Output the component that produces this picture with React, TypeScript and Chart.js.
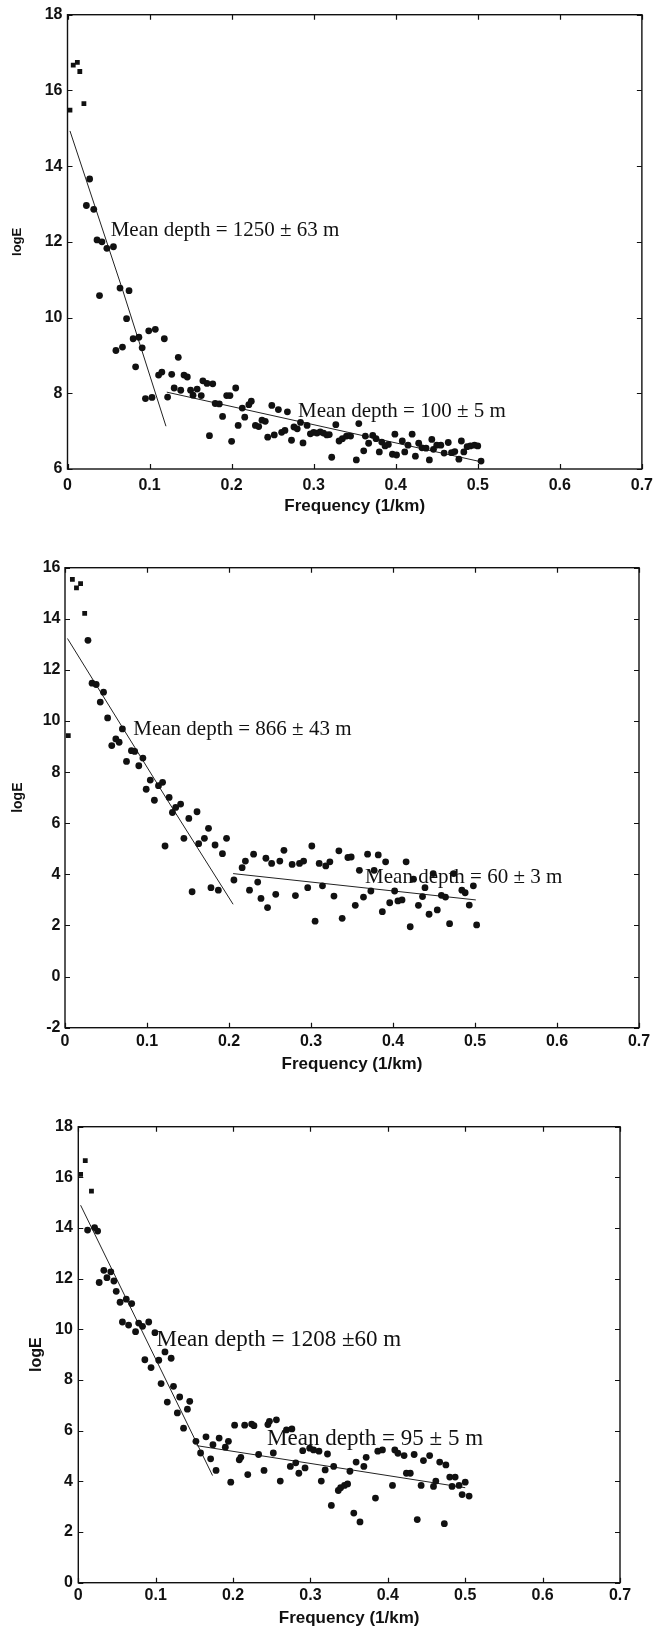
import React, { useEffect, useRef } from "react";
import { Chart, registerables } from "chart.js";

Chart.register(...registerables);

// ---------- shared axis values ----------
const freqTicks = [0, 0.1, 0.2, 0.3, 0.4, 0.5, 0.6, 0.7];
const xTitle = "Frequency (1/km)";
const yTitle = "logE";

// ---------- Panel 1 ----------
const p1Freq = [0.003, 0.007, 0.012, 0.015, 0.020, 0.023, 0.027, 0.032, 0.036, 0.042, 0.048, 0.056, 0.039, 0.064, 0.075,
  0.072, 0.059, 0.067, 0.080, 0.087, 0.091, 0.083, 0.095, 0.103, 0.099, 0.107, 0.118, 0.111, 0.115, 0.122, 0.127, 0.130,
  0.135, 0.138, 0.142, 0.146, 0.150, 0.153, 0.158, 0.163, 0.165, 0.170, 0.177, 0.173, 0.180, 0.185, 0.189, 0.194, 0.198,
  0.205, 0.200, 0.208, 0.213, 0.216, 0.221, 0.224, 0.229, 0.233, 0.237, 0.241, 0.244, 0.249, 0.252, 0.257, 0.261, 0.265,
  0.268, 0.273, 0.276, 0.280, 0.284, 0.287, 0.292, 0.296, 0.300, 0.304, 0.308, 0.312, 0.316, 0.319, 0.322, 0.327,
  0.331, 0.335, 0.340, 0.345, 0.352, 0.355, 0.361, 0.363, 0.367, 0.372, 0.376, 0.380, 0.383, 0.387, 0.391, 0.396, 0.399,
  0.401, 0.408, 0.411, 0.415, 0.420, 0.424, 0.428, 0.432, 0.437, 0.441, 0.444, 0.446, 0.450, 0.455, 0.459, 0.464, 0.468,
  0.472, 0.477, 0.480, 0.483, 0.487, 0.491, 0.496, 0.500, 0.504];
const p1LogE = [15.48, 16.67, 16.74, 16.5, 15.65, 12.96, 13.66, 12.86, 12.05, 12.0, 11.83, 11.87, 10.58, 10.78, 10.71,
  9.97, 9.13, 9.22, 9.44, 9.48, 9.2, 8.70, 7.86, 7.89, 9.65, 9.69, 9.44, 8.48, 8.56, 7.90, 8.50, 8.14,
  8.95, 8.08, 8.48, 8.43, 8.08, 7.95, 8.11, 7.94, 8.33, 8.26, 8.25, 6.88, 7.73, 7.72, 7.39, 7.94, 7.94,
  8.14, 6.73, 7.15, 7.61, 7.37, 7.70, 7.79, 7.15, 7.12, 7.29, 7.26, 6.84, 7.68, 6.90, 7.57, 6.97, 7.02,
  7.51, 6.76, 7.11, 7.06, 7.23, 6.69, 7.15, 6.93, 6.97, 6.95, 6.98, 6.95, 6.90, 6.91, 6.31, 7.17,
  6.74, 6.80, 6.87, 6.87, 6.24, 7.20, 6.48, 6.87, 6.68, 6.89, 6.80, 6.45, 6.71, 6.61, 6.65, 6.39, 6.92,
  6.37, 6.74, 6.45, 6.63, 6.92, 6.34, 6.68, 6.56, 6.55, 6.24, 6.78, 6.52, 6.63, 6.63, 6.42, 6.70, 6.43,
  6.46, 6.26, 6.74, 6.45, 6.59, 6.61, 6.63, 6.61, 6.21];
const p1DeepFreq = [0.003, 0.067, 0.120];
const p1DeepLogE = [14.93, 10.74, 7.13];
const p1ShallowFreq = [0.121, 0.502];
const p1ShallowLogE = [8.03, 6.20];
const p1Labels = ["Mean depth = 1250 ± 63 m", "Mean depth = 100 ± 5 m"];
const p1LabelFreq = [0.0526, 0.281];
const p1LabelLogE = [12.31, 7.51];

// ---------- Panel 2 ----------
const p2Freq = [0.004, 0.009, 0.014, 0.019, 0.024, 0.028, 0.033, 0.038, 0.043, 0.047, 0.052, 0.057, 0.062, 0.066, 0.070,
  0.075, 0.081, 0.085, 0.090, 0.095, 0.099, 0.104, 0.109, 0.114, 0.119, 0.122, 0.127, 0.131, 0.135, 0.141, 0.145, 0.151,
  0.155, 0.161, 0.163, 0.170, 0.175, 0.178, 0.183, 0.187, 0.192, 0.197, 0.206, 0.216, 0.220, 0.225, 0.230, 0.235, 0.239,
  0.245, 0.247, 0.252, 0.257, 0.262, 0.267, 0.277, 0.281, 0.286, 0.291, 0.296, 0.301, 0.305, 0.310, 0.314, 0.318, 0.323,
  0.328, 0.334, 0.338, 0.345, 0.349, 0.354, 0.359, 0.364, 0.369, 0.373, 0.377, 0.382, 0.387, 0.391, 0.396, 0.402, 0.406,
  0.411, 0.416, 0.421, 0.425, 0.431, 0.436, 0.439, 0.444, 0.449, 0.454, 0.459, 0.464, 0.469, 0.474, 0.484, 0.488, 0.493,
  0.498, 0.502];
const p2LogE = [9.43, 15.54, 15.21, 15.38, 14.21, 13.16, 11.48, 11.43, 10.74, 11.13, 10.12, 9.04, 9.30, 9.17, 9.69,
  8.42, 8.84, 8.81, 8.25, 8.55, 7.33, 7.69, 6.90, 7.47, 7.60, 5.11, 7.01, 6.42, 6.62, 6.75, 5.41, 6.19,
  3.32, 6.45, 5.20, 5.41, 5.80, 3.48, 5.15, 3.38, 4.81, 5.41, 3.78, 4.26, 4.52, 3.38, 4.79, 3.70, 3.06,
  4.63, 2.70, 4.43, 3.22, 4.52, 4.94, 4.39, 3.17, 4.43, 4.52, 3.48, 5.11, 2.17, 4.43, 3.55, 4.33, 4.49,
  3.15, 4.92, 2.28, 4.66, 4.68, 2.79, 4.16, 3.11, 4.79, 3.35, 4.16, 4.76, 2.54, 4.49, 2.89, 3.35, 2.96,
  3.00, 4.49, 1.95, 3.81, 2.79, 3.13, 3.48, 2.44, 4.03, 2.61, 3.18, 3.11, 2.07, 4.03, 3.38, 3.28, 2.80,
  3.55, 2.02];
const p2DeepFreq = [0.003, 0.125, 0.205];
const p2DeepLogE = [13.23, 6.90, 2.83];
const p2ShallowFreq = [0.205, 0.501];
const p2ShallowLogE = [4.03, 3.00];
const p2Labels = ["Mean depth = 866 ± 43 m", "Mean depth = 60 ± 3 m"];
const p2LabelFreq = [0.0833, 0.366];
const p2LabelLogE = [9.68, 3.87];

// ---------- Panel 3 ----------
const p3Freq = [0.003, 0.009, 0.017, 0.012, 0.021, 0.025, 0.027, 0.033, 0.037, 0.042, 0.046, 0.049, 0.054, 0.062, 0.069,
  0.057, 0.065, 0.074, 0.078, 0.083, 0.091, 0.099, 0.086, 0.094, 0.104, 0.112, 0.120, 0.107, 0.123, 0.115, 0.131, 0.128,
  0.141, 0.144, 0.136, 0.152, 0.158, 0.165, 0.171, 0.174, 0.178, 0.182, 0.190, 0.194, 0.197, 0.202, 0.208, 0.210, 0.215,
  0.219, 0.224, 0.227, 0.233, 0.240, 0.245, 0.247, 0.252, 0.256, 0.261, 0.269, 0.274, 0.276, 0.281, 0.285, 0.290, 0.293,
  0.299, 0.304, 0.311, 0.314, 0.319, 0.322, 0.327, 0.330, 0.336, 0.339, 0.344, 0.348, 0.351, 0.356, 0.359, 0.364, 0.369,
  0.372, 0.384, 0.387, 0.393, 0.406, 0.409, 0.413, 0.421, 0.424, 0.429, 0.434, 0.438, 0.443, 0.446, 0.454, 0.459, 0.462,
  0.467, 0.473, 0.475, 0.480, 0.483, 0.487, 0.492, 0.496, 0.500, 0.505];
const p3LogE = [16.12, 16.66, 15.46, 13.92, 14.02, 13.88, 11.85, 12.33, 12.04, 12.27, 11.91, 11.50, 11.07, 11.19, 11.02,
  10.29, 10.17, 9.91, 10.25, 10.12, 10.29, 9.87, 8.80, 8.49, 8.78, 9.11, 8.86, 7.86, 7.75, 7.13, 7.33, 6.70,
  6.85, 7.16, 6.10, 5.58, 5.12, 5.76, 4.89, 5.45, 4.43, 5.71, 5.35, 5.58, 3.97, 6.22, 4.85, 4.95, 6.22,
  4.27, 6.26, 6.20, 5.06, 4.43, 6.24, 6.37, 5.12, 6.43, 4.01, 6.03, 4.59, 6.07, 4.73, 4.32, 5.21, 4.53,
  5.31, 5.24, 5.19, 4.01, 4.45, 5.08, 3.05, 4.59, 3.64, 3.75, 3.84, 3.90, 4.40, 2.75, 4.76, 2.40, 4.59,
  4.95, 3.34, 5.19, 5.24, 3.84, 5.24, 5.11, 5.02, 4.32, 4.32, 5.06, 2.49, 3.84, 4.82, 5.02, 3.80, 4.01,
  4.76, 2.33, 4.65, 4.17, 3.80, 4.17, 3.84, 3.48, 3.97, 3.42];
const p3DeepFreq = [0.003, 0.1735];
const p3DeepLogE = [14.90, 4.23];
const p3ShallowFreq = [0.153, 0.500];
const p3ShallowLogE = [5.41, 3.75];
const p3Labels = ["Mean depth = 1208 ±60 m", "Mean depth = 95 ± 5 m"];
const p3LabelFreq = [0.101, 0.244];
const p3LabelLogE = [9.58, 5.67];

// ---------- layout / style per panel ----------
type PanelCfg = {
  freq: number[]; logE: number[];
  deepF: number[]; deepE: number[]; shallowF: number[]; shallowE: number[];
  labels: string[]; labelF: number[]; labelE: number[];
  yMin: number; yMax: number;
  squares: number;
  top: number; h: number; aLeft: number; aRight: number; aTop: number; aBottom: number;
  xPad: number; yPad: number; xTitlePad: number; yTitlePad: number; yTitleSize: number;
  annSize: number;
};

const panels: PanelCfg[] = [
  {
    freq: p1Freq, logE: p1LogE, deepF: p1DeepFreq, deepE: p1DeepLogE, shallowF: p1ShallowFreq, shallowE: p1ShallowLogE,
    labels: p1Labels, labelF: p1LabelFreq, labelE: p1LabelLogE, yMin: 6, yMax: 18, squares: 5,
    top: 0, h: 530, aLeft: 67.5, aRight: 646.5, aTop: 14.7, aBottom: 469,
    xPad: 7, yPad: 5, xTitlePad: 13, yTitlePad: 10, yTitleSize: 13, annSize: 21,
  },
  {
    freq: p2Freq, logE: p2LogE, deepF: p2DeepFreq, deepE: p2DeepLogE, shallowF: p2ShallowFreq, shallowE: p2ShallowLogE,
    labels: p2Labels, labelF: p2LabelFreq, labelE: p2LabelLogE, yMin: -2, yMax: 16, squares: 5,
    top: 530, h: 555, aLeft: 65, aRight: 639, aTop: 37.7, aBottom: 497.7,
    xPad: 4, yPad: 4.5, xTitlePad: 10, yTitlePad: 10, yTitleSize: 14, annSize: 21,
  },
  {
    freq: p3Freq, logE: p3LogE, deepF: p3DeepFreq, deepE: p3DeepLogE, shallowF: p3ShallowFreq, shallowE: p3ShallowLogE,
    labels: p3Labels, labelF: p3LabelFreq, labelE: p3LabelLogE, yMin: 0, yMax: 18, squares: 3,
    top: 1085, h: 550, aLeft: 78.3, aRight: 620, aTop: 41.7, aBottom: 497.7,
    xPad: 3.5, yPad: 5.5, xTitlePad: 6, yTitlePad: 27, yTitleSize: 16, annSize: 23,
  },
];

const tickFont = { family: "'Liberation Sans', Arial, sans-serif", size: 16, weight: "bold" as const };

function framePlugin() {
  return {
    id: "frame",
    afterDraw(chart: any) {
      const { ctx, chartArea: a, scales } = chart;
      const x = scales.x, y = scales.y;
      ctx.save();
      ctx.strokeStyle = "#111";
      ctx.lineWidth = 1.4;
      ctx.strokeRect(a.left, a.top, a.right - a.left, a.bottom - a.top);
      ctx.lineWidth = 1.2;
      const L = 5;
      ctx.beginPath();
      x.ticks.forEach((t: any) => {
        const px = Math.round(x.getPixelForValue(t.value)) + 0.5;
        ctx.moveTo(px, a.bottom); ctx.lineTo(px, a.bottom - L);
        ctx.moveTo(px, a.top); ctx.lineTo(px, a.top + L);
      });
      y.ticks.forEach((t: any) => {
        const py = Math.round(y.getPixelForValue(t.value)) + 0.5;
        ctx.moveTo(a.left, py); ctx.lineTo(a.left + L, py);
        ctx.moveTo(a.right, py); ctx.lineTo(a.right - L, py);
      });
      ctx.stroke();
      ctx.restore();
    },
  };
}

function labelPlugin(cfg: PanelCfg) {
  return {
    id: "depthLabels",
    afterDatasetsDraw(chart: any) {
      const { ctx, scales } = chart;
      ctx.save();
      ctx.fillStyle = "#111";
      ctx.font = `${cfg.annSize}px 'Liberation Serif', 'Times New Roman', serif`;
      ctx.textAlign = "left";
      ctx.textBaseline = "middle";
      cfg.labels.forEach((txt, i) => {
        ctx.fillText(txt, scales.x.getPixelForValue(cfg.labelF[i]), scales.y.getPixelForValue(cfg.labelE[i]));
      });
      ctx.restore();
    },
  };
}

function Panel({ cfg }: { cfg: PanelCfg }) {
  const ref = useRef<HTMLCanvasElement>(null);
  useEffect(() => {
    if (!ref.current) return;
    const pts = cfg.freq.map((f, i) => ({ x: f, y: cfg.logE[i] }));
    const deep = cfg.deepF.map((f, i) => ({ x: f, y: cfg.deepE[i] }));
    const shallow = cfg.shallowF.map((f, i) => ({ x: f, y: cfg.shallowE[i] }));
    const chart = new Chart(ref.current, {
      type: "scatter",
      data: {
        datasets: [
          {
            data: pts,
            backgroundColor: "#111",
            borderColor: "#111",
            borderWidth: 0,
            pointRadius: 3.4,
            pointStyle: pts.map((_, i) => (i < cfg.squares ? "rect" : "circle")) as any,
          },
          { data: deep, showLine: true, borderColor: "#222", borderWidth: 1, pointRadius: 0, fill: false },
          { data: shallow, showLine: true, borderColor: "#222", borderWidth: 1, pointRadius: 0, fill: false },
        ],
      },
      options: {
        responsive: false,
        animation: false,
        events: [],
        layout: { padding: { left: 0, top: cfg.aTop, right: 660 - cfg.aRight, bottom: 0 } },
        plugins: { legend: { display: false }, tooltip: { enabled: false } },
        scales: {
          x: {
            type: "linear",
            min: 0,
            max: 0.7,
            afterBuildTicks: (s: any) => { s.ticks = freqTicks.map((v) => ({ value: v })); },
            afterFit: (s: any) => { s.height = cfg.h - cfg.aBottom; },
            grid: { display: false, drawTicks: false },
            border: { display: false },
            ticks: {
              color: "#111",
              font: tickFont,
              padding: cfg.xPad,
              maxRotation: 0,
              autoSkip: false,
              callback: (v: any) => (v === 0 ? "0" : Number(v).toFixed(1)),
            },
            title: {
              display: true,
              text: xTitle,
              color: "#111",
              font: { family: "'Liberation Sans', Arial, sans-serif", size: 17, weight: "bold" },
              padding: { top: 0, bottom: cfg.xTitlePad },
            },
          },
          y: {
            type: "linear",
            min: cfg.yMin,
            max: cfg.yMax,
            afterFit: (s: any) => { s.width = cfg.aLeft; },
            grid: { display: false, drawTicks: false },
            border: { display: false },
            ticks: { color: "#111", font: tickFont, padding: cfg.yPad, stepSize: 2 },
            title: {
              display: true,
              text: yTitle,
              color: "#111",
              font: { family: "'Liberation Sans', Arial, sans-serif", size: cfg.yTitleSize, weight: "bold" },
              padding: { top: cfg.yTitlePad, bottom: 0 },
            },
          },
        },
      },
      plugins: [framePlugin(), labelPlugin(cfg)],
    });
    return () => chart.destroy();
  }, [cfg]);
  return (
    <canvas
      ref={ref}
      width={660}
      height={cfg.h}
      style={{ position: "absolute", left: 0, top: cfg.top, width: 660, height: cfg.h }}
    />
  );
}

export default function App() {
  useEffect(() => {
    document.body.style.margin = "0";
    document.body.style.background = "#fff";
  }, []);
  return (
    <div style={{ position: "relative", width: 660, height: 1635, background: "#fff" }}>
      {panels.map((p, i) => (
        <Panel key={i} cfg={p} />
      ))}
    </div>
  );
}
